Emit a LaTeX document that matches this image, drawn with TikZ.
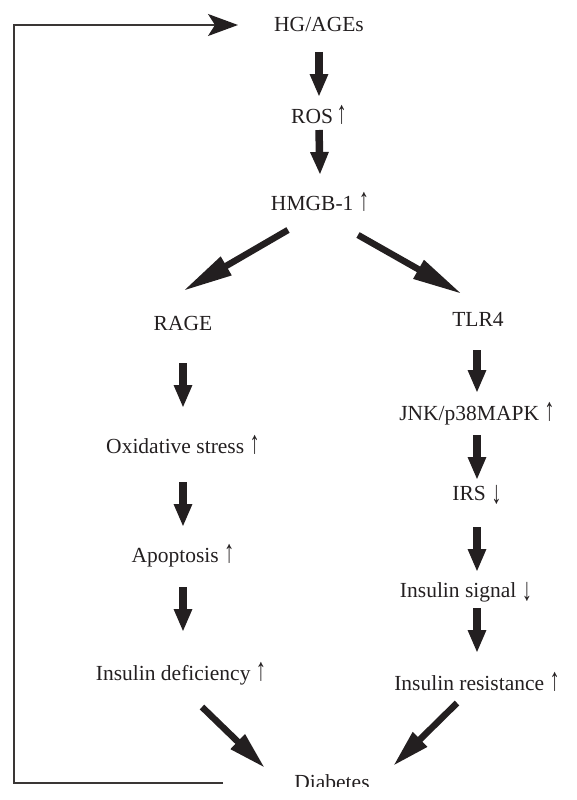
\documentclass[tikz,border=0pt]{standalone}
\usepackage{fontspec}
\usepackage{graphicx}
\setmainfont{Liberation Serif}
\usetikzlibrary{arrows.meta,calc}
\definecolor{ink}{HTML}{231F20}
\definecolor{fbline}{HTML}{3A3635}
\newcommand{\upar}{\raisebox{-0.5pt}{\scalebox{0.95}[1.5]{↑}}}
\newcommand{\dnar}{\raisebox{-3.5pt}{\scalebox{0.95}[1.5]{↓}}}
\tikzset{
  lbl/.style={anchor=base,inner sep=0pt,text=ink,font=\fontsize{21.5pt}{24pt}\selectfont},
  vbig/.style={draw=ink,line width=7.5pt,-{Triangle[length=23pt,width=17pt]}},
  dbig/.style={draw=ink,line width=6.5pt,-{Triangle[length=50pt,width=20pt]}},
  lbig/.style={draw=ink,line width=6.5pt,-{Triangle[length=38pt,width=19pt]}},
  fb/.style={draw=fbline,line width=1.4pt,-{Stealth[length=30pt,width=22pt,inset=7pt,color=ink,fill=ink]}}
}
\begin{document}
\begin{tikzpicture}[x=1pt,y=-1pt]
\useasboundingbox (0,0) rectangle (576,800);
% nodes (base points)
\node[lbl] (hg)   at (319,32)  {HG/AGEs};
\node[lbl] (ros)  at (319,123) {ROS\,\upar};
\node[lbl] (hmgb) at (320,210) {HMGB-1 \upar};
\node[lbl] (rage) at (183,330) {RAGE};
\node[lbl] (tlr)  at (478,326) {TLR4};
\node[lbl] (ox)   at (183,453) {Oxidative stress \upar};
\node[lbl] (apo)  at (183,562) {Apoptosis \upar};
\node[lbl] (def)  at (181,680) {Insulin deficiency \upar};
\node[lbl] (jnk)  at (477,420) {JNK/p38MAPK \upar};
\node[lbl] (irs)  at (477,500) {IRS \dnar};
\node[lbl] (sig)  at (466,597) {Insulin signal \dnar};
\node[lbl] (res)  at (477,690) {Insulin resistance \upar};
\node[lbl] (diab) at (332,789) {Diabetes};
% vertical arrows
\draw[vbig] ($(hg.base)+(0,20)$) -- ($(ros.base)+(0,-26)$);
\draw[vbig] ($(ros.base)+(0,7)$) -- ($(hmgb.base)+(0,-35)$);
\draw[vbig] ($(rage.base)+(0,33)$) -- ($(ox.base)+(0,-45)$);
\draw[vbig] ($(ox.base)+(0,29)$) -- ($(apo.base)+(0,-35)$);
\draw[vbig] ($(apo.base)+(0,25)$) -- ($(def.base)+(2,-48)$);
\draw[vbig] ($(tlr.base)+(-1,24)$) -- ($(jnk.base)+(0,-27)$);
\draw[vbig] ($(jnk.base)+(0,15)$) -- ($(irs.base)+(0,-20)$);
\draw[vbig] ($(irs.base)+(0,27)$) -- ($(sig.base)+(11,-25)$);
\draw[vbig] ($(sig.base)+(11,11)$) -- ($(res.base)+(0,-37)$);
% diagonal arrows
\draw[dbig] ($(hmgb.base)+(-32,20)$) -- ($(rage.base)+(0,-39)$);
\draw[dbig] ($(hmgb.base)+(38,25)$) -- ($(tlr.base)+(-16,-32)$);
\draw[lbig] ($(def.base)+(21,27)$) -- ($(diab.base)+(-67,-21)$);
\draw[lbig] ($(res.base)+(-20,13)$) -- ($(diab.base)+(61,-23)$);
% feedback loop
\coordinate (fbc) at (14,783);
\draw[fb] ($(diab.base)+(-109,-6)$) -- (fbc) |- ($(hg.base)+(-81,-7)$);
% crop of the bottom edge, as in the reference
\fill[white] (0,787) rectangle (576,800);
\end{tikzpicture}
\end{document}
